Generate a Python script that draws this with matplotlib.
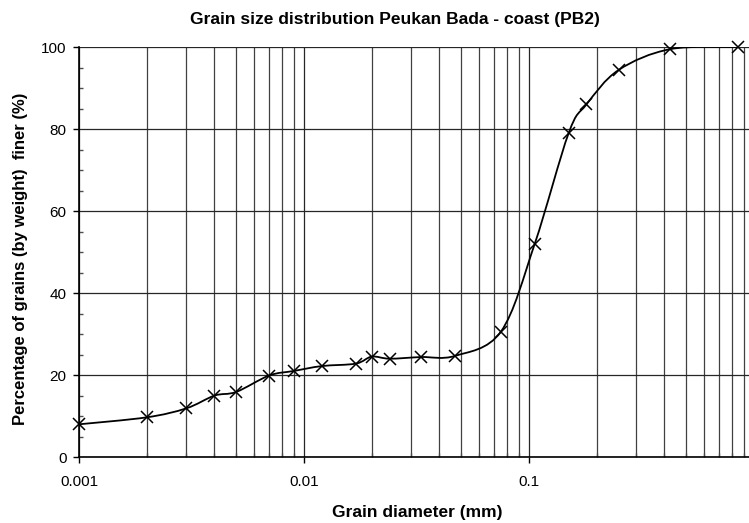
import numpy as np
import matplotlib
matplotlib.use('Agg')
import matplotlib.pyplot as plt
from matplotlib.path import Path
from matplotlib.patches import PathPatch
from matplotlib.ticker import MultipleLocator, LogLocator, FixedFormatter, FixedLocator

plt.rcParams['font.family'] = ['Liberation Sans', 'DejaVu Sans']

# grain diameter (mm) and percentage finer
diameter = [0.001, 0.002, 0.003, 0.004, 0.005, 0.007, 0.009, 0.012, 0.017,
            0.020, 0.024, 0.033, 0.047, 0.075, 0.106, 0.15, 0.18, 0.25,
            0.425, 0.85]
finer = [8.0, 9.7, 11.9, 15.0, 15.9, 19.9, 21.0, 22.2, 22.8,
         24.5, 24.0, 24.4, 24.7, 30.6, 52.0, 79.0, 86.0, 94.4,
         99.5, 100.0]

x_ticks = [0.001, 0.01, 0.1]
x_tick_labels = ['0.001', '0.01', '0.1']


def smooth_path(xs, ys):
    # Excel-like smoothed line: cardinal spline as cubic Bezier in log-x space
    lx = np.log10(xs)
    ys = np.asarray(ys, dtype=float)
    n = len(lx)
    verts = [(xs[0], ys[0])]
    codes = [Path.MOVETO]
    for i in range(n - 1):
        i0 = max(i - 1, 0)
        i3 = min(i + 2, n - 1)
        c1x = lx[i] + (lx[i + 1] - lx[i0]) / 6
        c1y = ys[i] + (ys[i + 1] - ys[i0]) / 6
        c2x = lx[i + 1] - (lx[i3] - lx[i]) / 6
        c2y = ys[i + 1] - (ys[i3] - ys[i]) / 6
        verts += [(10 ** c1x, c1y), (10 ** c2x, c2y), (xs[i + 1], ys[i + 1])]
        codes += [Path.CURVE4] * 3
    return Path(verts, codes)


fig = plt.figure(figsize=(7.49, 5.23), dpi=100)
ax = fig.add_axes([0.1055, 0.126, 0.8945, 0.784])

ax.set_xscale('log')
ax.set_xlim(0.001, 0.95)
ax.set_ylim(0, 100)

ax.add_patch(PathPatch(smooth_path(diameter, finer), fill=False,
                       edgecolor='black', linewidth=1.3, zorder=3))
ax.plot(diameter, finer, linestyle='none', marker='x', color='black',
        markersize=8, markeredgewidth=1.1, zorder=4, clip_on=False)

ax.xaxis.set_major_locator(FixedLocator(x_ticks))
ax.xaxis.set_major_formatter(FixedFormatter(x_tick_labels))
ax.xaxis.set_minor_locator(LogLocator(base=10, subs=np.arange(2, 10)))
ax.xaxis.set_minor_formatter(plt.NullFormatter())
ax.yaxis.set_major_locator(MultipleLocator(20))
ax.yaxis.set_minor_locator(MultipleLocator(5))

ax.grid(True, which='major', axis='both', color='0.15', linewidth=0.9)
ax.grid(True, which='minor', axis='x', color='0.25', linewidth=0.9)

ax.tick_params(which='major', direction='out', length=4, width=1,
               labelsize=11, color='black')
ax.tick_params(axis='x', which='major', pad=9)
ax.tick_params(axis='y', which='major', pad=5)
ax.tick_params(which='minor', direction='in', length=3, width=1, color='0.3')

for side in ['top', 'right']:
    ax.spines[side].set_visible(False)
for side in ['left', 'bottom']:
    ax.spines[side].set_linewidth(1.2)

fig.text(0.527, 0.963, 'Grain size distribution Peukan Bada - coast (PB2)',
         ha='center', va='center', fontsize=12.5, fontweight='bold')
fig.text(0.557, 0.021, 'Grain diameter (mm)', ha='center', va='center',
         fontsize=12.5, fontweight='bold')
fig.text(0.028, 0.505, 'Percentage of grains (by weight)  finer (%)',
         ha='center', va='center', rotation=90, fontsize=12, fontweight='bold')

fig.savefig('out.png', dpi=100)
